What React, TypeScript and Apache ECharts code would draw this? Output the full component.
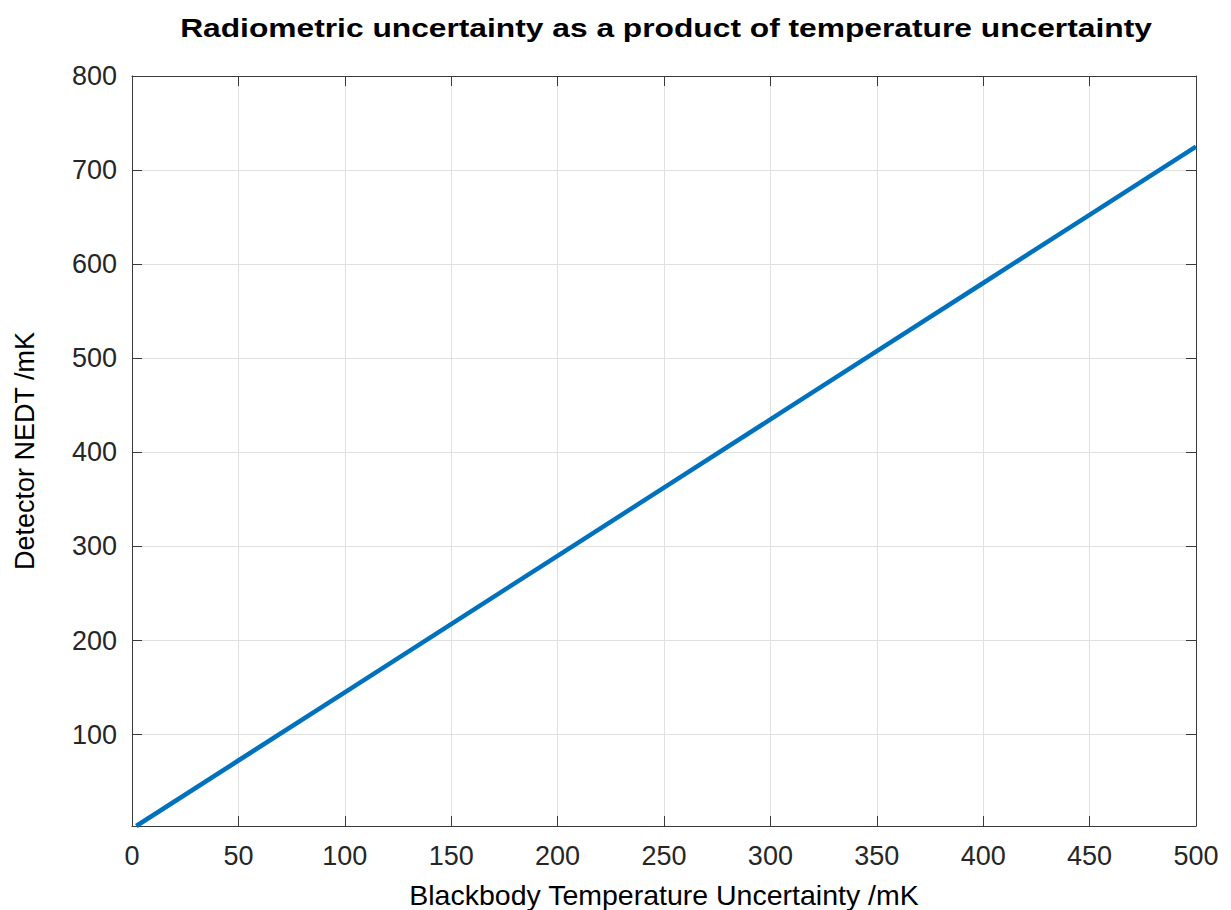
import React, { useEffect, useRef } from "react";
import * as echarts from "echarts";

const titleText = "Radiometric uncertainty as a product of temperature uncertainty";
const xAxisName = "Blackbody Temperature Uncertainty /mK";
const yAxisName = "Detector NEDT /mK";

const tempUncertainty = [2, 50, 100, 150, 200, 250, 300, 350, 400, 450, 500];
const detectorNEDT = [2.9, 72.5, 145, 217.5, 290, 362.5, 435, 507.5, 580, 652.5, 725];

const xMin = 0;
const xMax = 500;
const xStep = 50;
const yMin = 2.9;
const yMax = 800;
const yStep = 100;

const FONT = "'Liberation Sans', Arial, Helvetica, sans-serif";
const AXIS_COLOR = "#3a3a3a";
const LABEL_COLOR = "#262626";
const GRID_COLOR = "#e0e0e0";

export default function App() {
  const ref = useRef<HTMLDivElement>(null);

  useEffect(() => {
    if (!ref.current) return;
    const chart = echarts.init(ref.current, null, { renderer: "svg" });
    const data = tempUncertainty.map((x, i) => [x, detectorNEDT[i]]);

    const baseX = {
      type: "value" as const,
      min: xMin,
      max: xMax,
      interval: xStep,
      axisLine: { show: true, onZero: false, lineStyle: { color: AXIS_COLOR, width: 1 } },
      axisTick: { show: true, inside: true, length: 10, lineStyle: { color: AXIS_COLOR, width: 1 } },
    };
    const baseY = {
      type: "value" as const,
      min: yMin,
      max: yMax,
      minInterval: yStep,
      maxInterval: yStep,
      axisLine: { show: true, onZero: false, lineStyle: { color: AXIS_COLOR, width: 1 } },
      axisTick: { show: true, inside: true, length: 10, lineStyle: { color: AXIS_COLOR, width: 1 } },
    };

    chart.setOption({
      animation: false,
      backgroundColor: "#ffffff",
      graphic: [
        {
          type: "text",
          x: 666,
          y: 28,
          scaleX: 1.27,
          style: {
            text: titleText,
            font: `bold 25px ${FONT}`,
            fill: "#000000",
            align: "center",
            verticalAlign: "middle",
          },
        },
      ],
      grid: {
        left: 132,
        right: 35,
        top: 76,
        bottom: 84,
        containLabel: false,
        outerBoundsMode: "none",
      },
      xAxis: [
        {
          ...baseX,
          position: "bottom",
          name: xAxisName,
          nameLocation: "middle",
          nameGap: 54,
          nameTextStyle: { fontFamily: FONT, fontSize: 28.5, color: "#000000" },
          axisLabel: { show: true, margin: 16, fontFamily: FONT, fontSize: 27, color: LABEL_COLOR },
          splitLine: { show: true, lineStyle: { color: GRID_COLOR, width: 1 } },
        },
        {
          ...baseX,
          position: "top",
          axisLabel: { show: false },
          splitLine: { show: false },
        },
      ],
      yAxis: [
        {
          ...baseY,
          position: "left",
          name: yAxisName,
          nameLocation: "middle",
          nameGap: 94,
          nameRotate: 90,
          nameTextStyle: { fontFamily: FONT, fontSize: 27, color: "#000000" },
          axisLabel: {
            show: true,
            margin: 15,
            fontFamily: FONT,
            fontSize: 27,
            color: LABEL_COLOR,
            formatter: (v: number) => (Math.abs(v % yStep) < 1e-6 ? String(v) : ""),
          },
          splitLine: { show: true, lineStyle: { color: GRID_COLOR, width: 1 } },
        },
        {
          ...baseY,
          position: "right",
          axisLabel: { show: false },
          splitLine: { show: false },
        },
      ],
      series: [
        {
          type: "line",
          data,
          xAxisIndex: 0,
          yAxisIndex: 0,
          showSymbol: false,
          symbol: "none",
          lineStyle: { color: "#0072BD", width: 4.5 },
          itemStyle: { color: "#0072BD" },
        },
      ],
    });

    return () => chart.dispose();
  }, []);

  return (
    <div
      ref={ref}
      style={{ position: "fixed", left: 0, top: 0, width: 1231, height: 910, background: "#fff" }}
    />
  );
}
